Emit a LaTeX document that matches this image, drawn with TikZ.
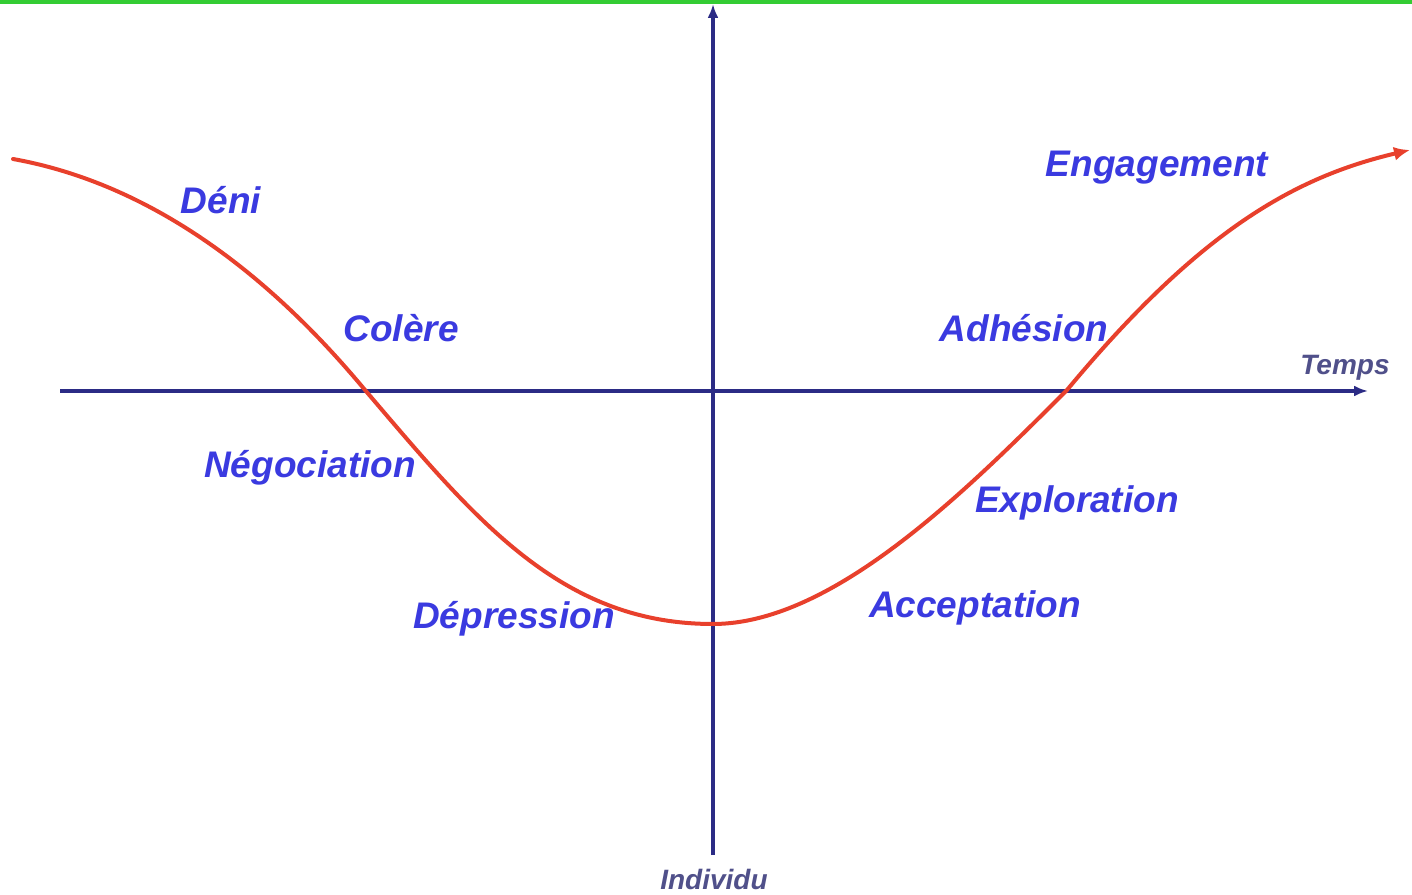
\documentclass[tikz,border=0pt]{standalone}
\usepackage{fontspec}
\setmainfont{Liberation Sans}
\usetikzlibrary{arrows.meta}
\definecolor{lblblue}{HTML}{3A3AE0}
\definecolor{axisblue}{HTML}{2B2B85}
\definecolor{axislbl}{HTML}{50508A}
\definecolor{curvered}{HTML}{E8402C}
\definecolor{topgreen}{HTML}{33CC33}
\tikzset{
  phase/.style={text=lblblue, font=\fontsize{37}{40}\selectfont\bfseries\itshape, inner sep=0pt},
  axislabel/.style={text=axislbl, font=\fontsize{28}{31}\selectfont\bfseries\itshape, inner sep=0pt},
  axisline/.style={draw=axisblue, line width=3.2pt, -{Latex[length=14pt,width=11pt]}},
  curveline/.style={draw=curvered, line width=4pt, line cap=round, -{Latex[length=16pt,width=14pt]}}
}
\begin{document}
\begin{tikzpicture}[x=1pt,y=1pt]
\useasboundingbox (0,0) rectangle (1412,894);
\fill[white] (0,0) rectangle (1412,894);
\fill[topgreen] (0,890) rectangle (1412,894);
% axes
\coordinate (hstart) at (60,503);
\coordinate (hend) at (1368,503);
\coordinate (vstart) at (713,39);
\coordinate (vend) at (713,890);
\draw[axisline] (hstart) -- (hend);
\draw[axisline] (vstart) -- (vend);
% curve
\coordinate (c0) at (13,735);
\coordinate (c1) at (365,504);
\coordinate (c2) at (713,270);
\coordinate (c3) at (1067,504);
\coordinate (c4) at (1410,744);
\draw[curveline] (c0) .. controls (180,705) and (300,582) .. (c1)
  .. controls (475,375) and (560,270) .. (c2)
  .. controls (833,270) and (967,404) .. (c3)
  .. controls (1200,664) and (1295,717) .. (c4);
% labels
\node[phase] (deni) at (221,694) {Déni};
\node[phase] (colere) at (401,566) {Colère};
\node[phase] (nego) at (310,426) {Négociation};
\node[phase] (depr) at (514,275) {Dépression};
\node[phase] (accept) at (975,286) {Acceptation};
\node[phase] (explo) at (1077,391) {Exploration};
\node[phase] (adh) at (1024,566) {Adhésion};
\node[phase] (engage) at (1157,726) {Engagement};
\node[axislabel] (temps) at (1345,526) {Temps};
\node[axislabel] (indiv) at (714,15) {Individu};
\end{tikzpicture}
\end{document}
